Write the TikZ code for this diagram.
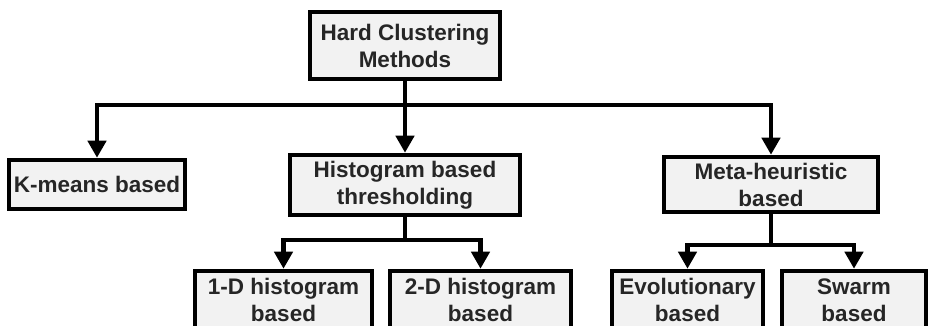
\documentclass[tikz,border=0pt]{standalone}
\usepackage{fontspec}
\setmainfont{Liberation Sans}
\usetikzlibrary{arrows.meta}

\begin{document}
\begin{tikzpicture}[x=1pt, y=1pt,
    method/.style ={rectangle, draw=black, line width=4.5pt, fill=black!5, text=black!85,
                    font=\bfseries\fontsize{22.5}{27}\selectfont, align=center, inner sep=2pt},
    branch/.style ={line width=4.5pt, -{Triangle[length=17pt,width=18pt]}}]
   \useasboundingbox (0,0) rectangle (929,326);

   \node[method, minimum width=190, minimum height=67] (hard)   at (405,280.5) {Hard Clustering\\Methods};
   \node[method, minimum width=176, minimum height=49] (kmeans) at (97,141.5)  {K-means based};
   \node[method, minimum width=230, minimum height=60] (hist)   at (405,141)   {Histogram based\\thresholding};
   \node[method, minimum width=214, minimum height=55] (meta)   at (771,141.5) {Meta-heuristic\\based};
   \node[method, minimum width=177, minimum height=58] (oned)   at (283.5,26)  {1-D histogram\\based};
   \node[method, minimum width=181, minimum height=58] (twod)   at (480.5,26)  {2-D histogram\\based};
   \node[method, minimum width=151, minimum height=58] (evo)    at (687.5,26)  {Evolutionary\\based};
   \node[method, minimum width=144, minimum height=58] (swarm)  at (854,26)    {Swarm\\based};

   \draw[branch] (hard.south) -- ++(0,-24) -| (kmeans.north);
   \draw[branch] (hard.south) -- (hist.north);
   \draw[branch] (hard.south) -- ++(0,-24) -| (meta.north);

   \draw[branch] (hist.south) -- ++(0,-23) -| (oned.north);
   \draw[branch] (hist.south) -- ++(0,-23) -| (twod.north);

   \draw[branch] (meta.south) -- ++(0,-31) -| (evo.north);
   \draw[branch] (meta.south) -- ++(0,-31) -| (swarm.north);
\end{tikzpicture}
\end{document}
